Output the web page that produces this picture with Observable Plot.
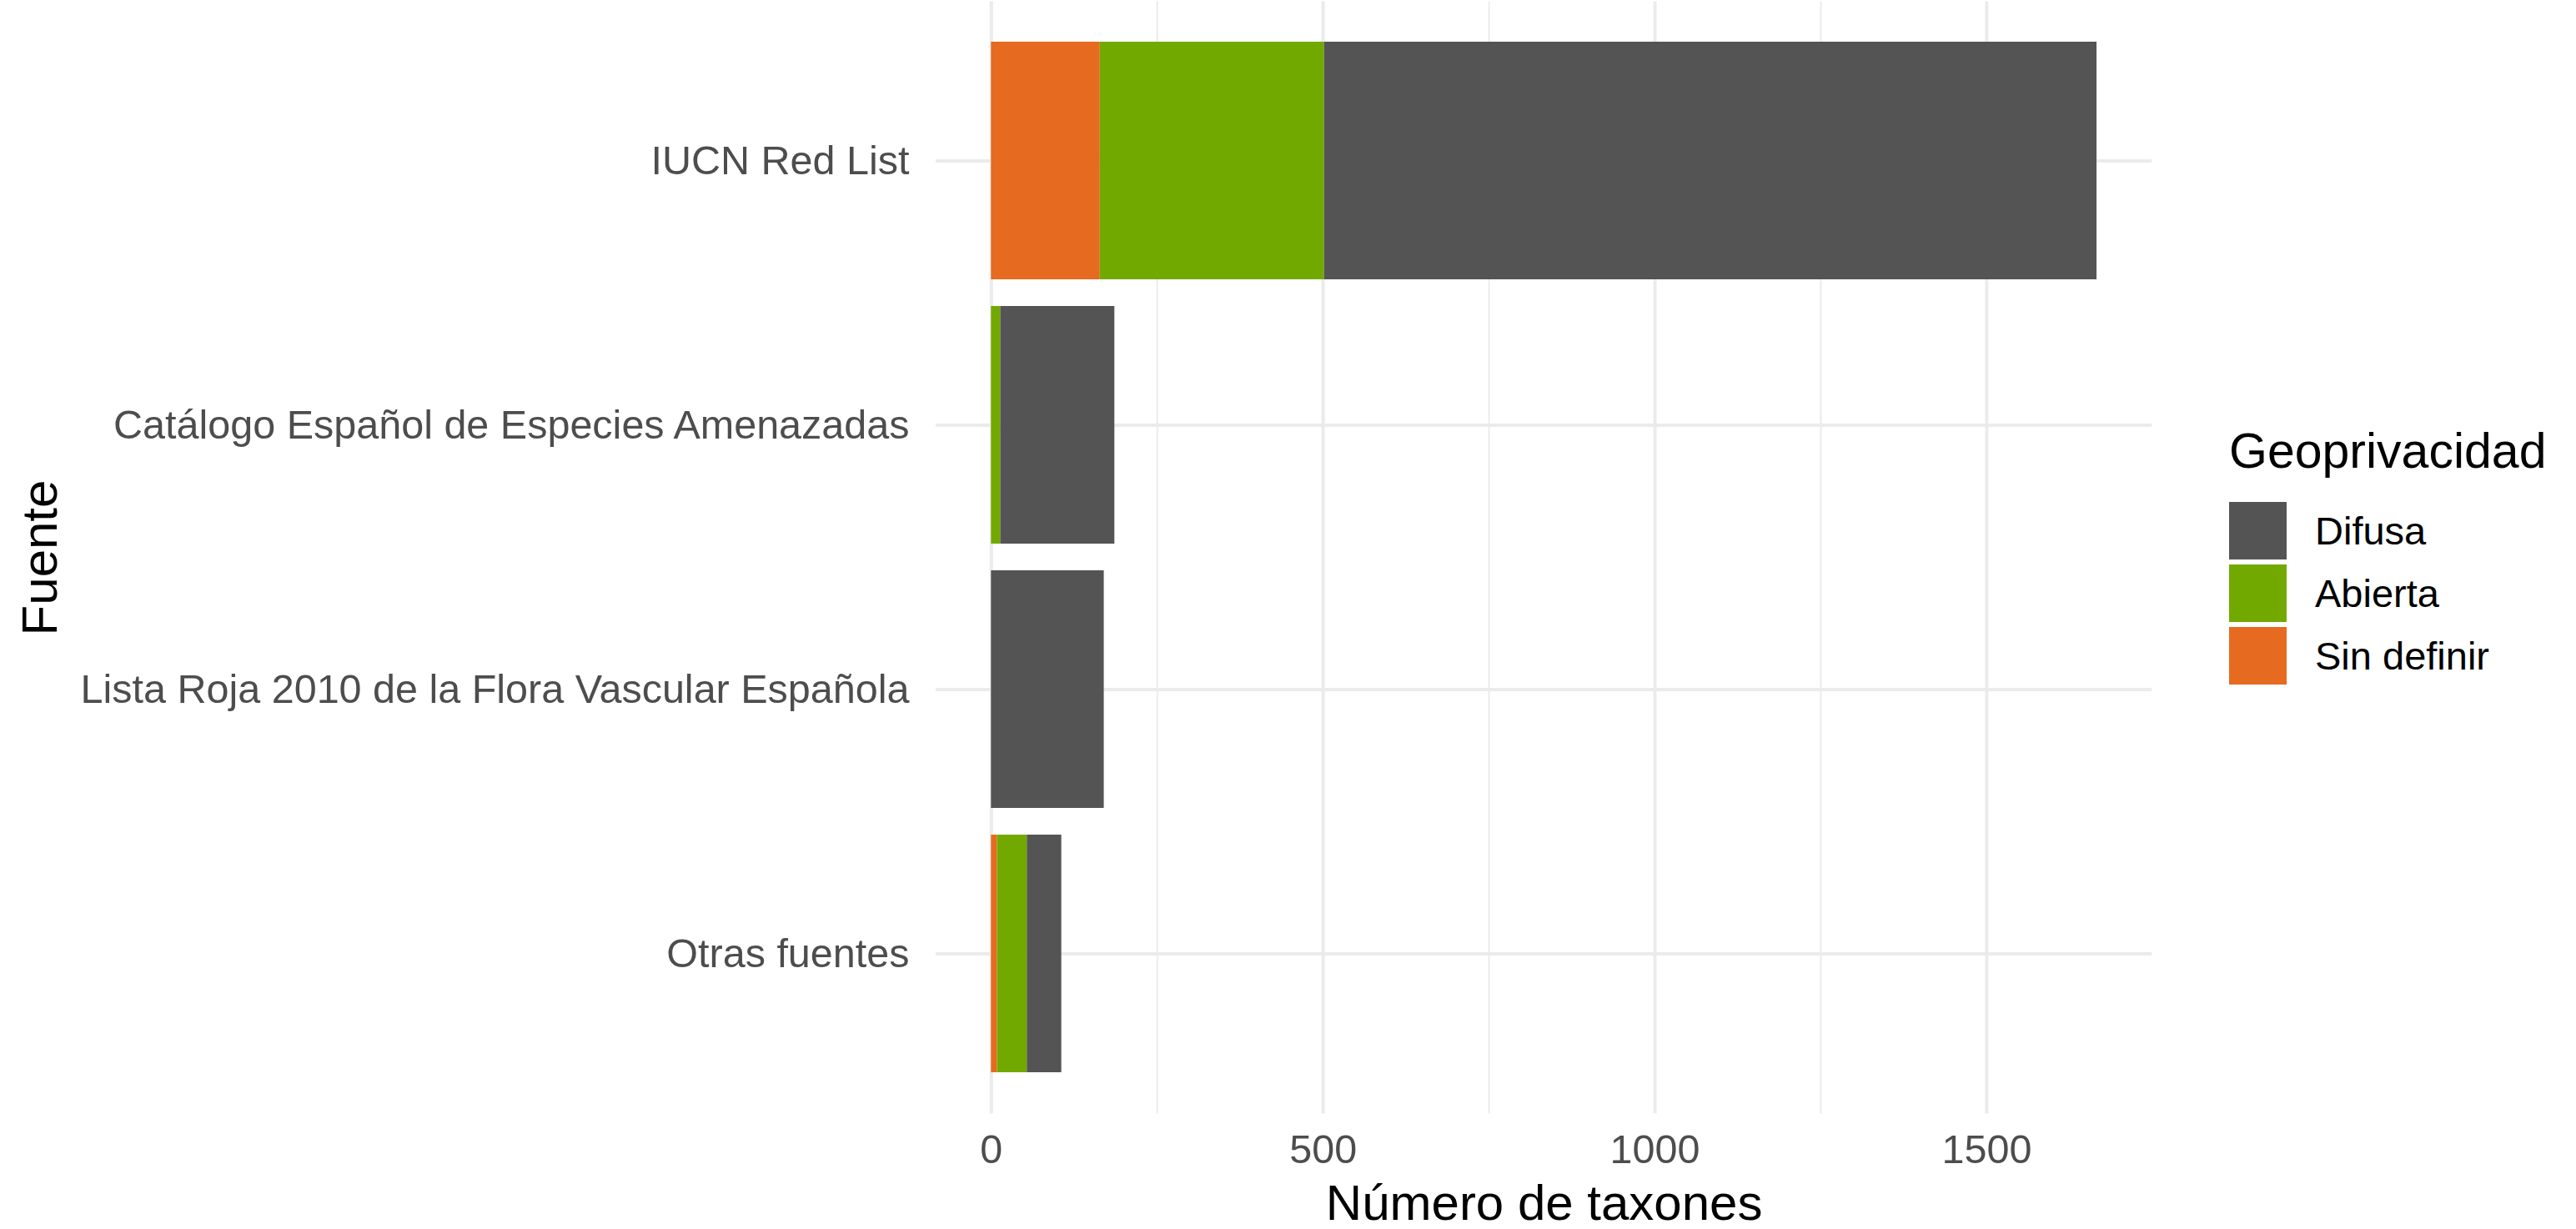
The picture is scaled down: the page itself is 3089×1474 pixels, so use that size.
<!DOCTYPE html>
<html>
<head>
<meta charset="utf-8">
<script src="https://cdn.jsdelivr.net/npm/d3@7"></script>
<script src="https://cdn.jsdelivr.net/npm/@observablehq/plot@0.6"></script>
<style>
  html, body { margin: 0; padding: 0; background: white; }
  #wrap { position: relative; width: 3089px; height: 1474px; font-family: "Liberation Sans", Arial, sans-serif; }
  #legend { position: absolute; left: 2673px; top: 512px; }
  #legend .title { font-size: 59px; line-height: 1; color: #000; margin-bottom: 31px; white-space: nowrap; }
  #legend .row { display: flex; align-items: center; height: 69px; margin-bottom: 6px; }
  #legend .sw { width: 69px; height: 69px; }
  #legend .lab { margin-left: 34px; font-size: 47px; line-height: 1; color: #000; white-space: nowrap; }
</style>
</head>
<body>
<div id="wrap"></div>
<script>
// ---- data ----
const fuentes = [
  "IUCN Red List",
  "Catálogo Español de Especies Amenazadas",
  "Lista Roja 2010 de la Flora Vascular Española",
  "Otras fuentes"
];
const geoLevels = ["Difusa", "Abierta", "Sin definir"];
const geoColors = ["#545454", "#72a900", "#e66a1f"];
const difusa     = [1164, 172, 170, 52];
const abierta    = [338, 14, 0, 45];
const sinDefinir = [164, 0, 0, 9];
const majorTicks = [0, 500, 1000, 1500];
const minorTicks = [250, 750, 1250];
const xTitle = "Número de taxones";
const yTitle = "Fuente";
const legendTitle = "Geoprivacidad";

// ---- build table ----
const rows = [];
fuentes.forEach((f, i) => {
  rows.push({fuente: f, geo: "Sin definir", n: sinDefinir[i]});
  rows.push({fuente: f, geo: "Abierta", n: abierta[i]});
  rows.push({fuente: f, geo: "Difusa", n: difusa[i]});
});
const totals = fuentes.map((f, i) => difusa[i] + abierta[i] + sinDefinir[i]);
const maxTotal = d3.max(totals);
const pad = maxTotal * 0.05;

const font = '"Liberation Sans", Arial, sans-serif';
const chart = Plot.plot({
  width: 3089,
  height: 1474,
  marginLeft: 1122,
  marginRight: 508.7,
  marginTop: 1.4,
  marginBottom: 138.4,
  style: {fontFamily: font, background: "white", overflow: "visible"},
  x: {domain: [-pad, maxTotal + pad]},
  y: {domain: fuentes, paddingInner: 0.1, paddingOuter: 0.15},
  color: {domain: geoLevels, range: geoColors},
  marks: [
    Plot.gridX({ticks: minorTicks, stroke: "#ebebeb", strokeOpacity: 1, strokeWidth: 2}),
    Plot.gridX({ticks: majorTicks, stroke: "#ebebeb", strokeOpacity: 1, strokeWidth: 4}),
    Plot.gridY({stroke: "#ebebeb", strokeOpacity: 1, strokeWidth: 4}),
    Plot.barX(rows, Plot.stackX({x: "n", y: "fuente", fill: "geo", order: ["Sin definir", "Abierta", "Difusa"]})),
    Plot.axisX({ticks: majorTicks, tickFormat: d => String(d), tickSize: 0, tickPadding: 24, fontSize: 48.5, fill: "#4d4d4d", label: null}),
    Plot.axisY({tickSize: 0, tickPadding: 32, fontSize: 48.5, fill: "#4d4d4d", label: null}),
    Plot.text([xTitle], {frameAnchor: "bottom", dy: 108, fontSize: 60, fill: "#000", lineAnchor: "middle"}),
    Plot.text([yTitle], {frameAnchor: "left", dx: -1074, rotate: -90, textAnchor: "middle", fontSize: 60, fill: "#000", lineAnchor: "middle"})
  ]
});

const wrap = document.getElementById("wrap");
wrap.appendChild(chart);

// ---- legend ----
const legend = document.createElement("div");
legend.id = "legend";
const t = document.createElement("div");
t.className = "title";
t.textContent = legendTitle;
legend.appendChild(t);
geoLevels.forEach((g, i) => {
  const row = document.createElement("div");
  row.className = "row";
  const sw = document.createElement("div");
  sw.className = "sw";
  sw.style.background = geoColors[i];
  const lab = document.createElement("div");
  lab.className = "lab";
  lab.textContent = g;
  row.appendChild(sw);
  row.appendChild(lab);
  legend.appendChild(row);
});
wrap.appendChild(legend);
</script>
</body>
</html>
